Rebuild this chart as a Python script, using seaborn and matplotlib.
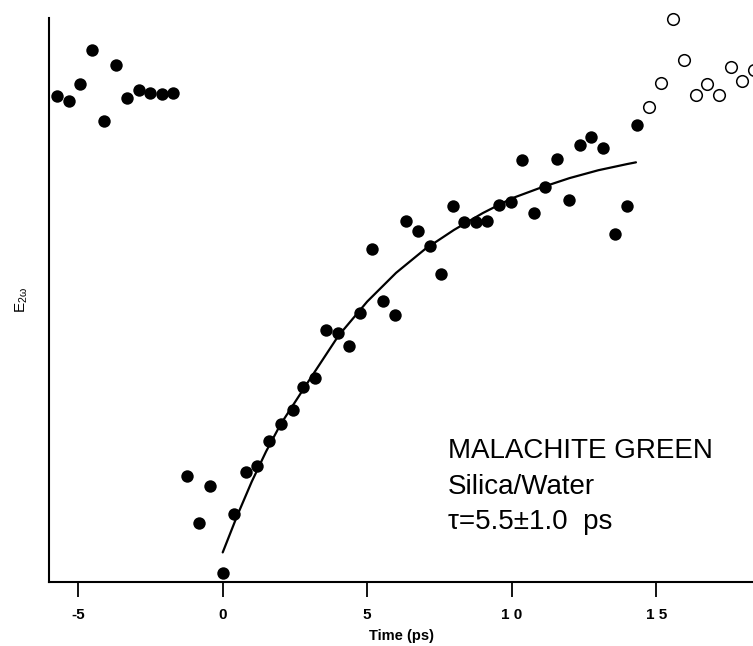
import matplotlib
matplotlib.use("Agg")
import matplotlib.pyplot as plt
import seaborn as sns
import pandas as pd

# Filled points (time in ps, E_2w in relative units)
t_filled = [-5.72, -5.32, -4.93, -4.51, -4.11, -3.70, -3.31, -2.91, -2.51, -2.11, -1.71,
            -1.25, -0.83, -0.44, 0.00, 0.40, 0.80, 1.20, 1.60, 2.01, 2.42, 2.79, 3.19,
            3.57, 3.98, 4.36, 4.76, 5.17, 5.56, 5.96, 6.35, 6.77, 7.16, 7.55, 7.96,
            8.35, 8.75, 9.16, 9.55, 9.97, 10.36, 10.77, 11.16, 11.57, 11.98, 12.36,
            12.74, 13.15, 13.57, 13.98, 14.35]
e_filled = [0.862, 0.853, 0.883, 0.943, 0.817, 0.917, 0.858, 0.872, 0.867, 0.865, 0.867,
            0.188, 0.105, 0.169, 0.016, 0.121, 0.195, 0.206, 0.250, 0.279, 0.305, 0.346, 0.362,
            0.446, 0.441, 0.418, 0.476, 0.590, 0.498, 0.473, 0.640, 0.623, 0.596, 0.546, 0.667,
            0.638, 0.639, 0.640, 0.669, 0.674, 0.749, 0.654, 0.700, 0.750, 0.677, 0.775,
            0.789, 0.769, 0.616, 0.667, 0.811]

# Open points
t_open = [14.76, 15.17, 15.57, 15.97, 16.38, 16.77, 17.17, 17.58, 17.98, 18.40]
e_open = [0.842, 0.885, 0.998, 0.925, 0.863, 0.883, 0.864, 0.913, 0.889, 0.908]

# Fit curve
t_fit = [0.0, 0.5, 1.0, 1.5, 2.0, 3.0, 4.0, 5.0, 6.0, 7.0, 8.0, 9.0, 10.0, 11.0, 12.0, 13.0, 14.0, 14.3]
e_fit = [0.052, 0.117, 0.177, 0.231, 0.279, 0.358, 0.436, 0.497, 0.548, 0.590, 0.624, 0.654,
         0.680, 0.699, 0.716, 0.730, 0.741, 0.744]

filled = pd.DataFrame({"t": t_filled, "e": e_filled})
hollow = pd.DataFrame({"t": t_open, "e": e_open})
fit = pd.DataFrame({"t": t_fit, "e": e_fit})

sns.set_style("ticks")
plt.rcParams["font.family"] = ["Liberation Sans", "DejaVu Sans"]
plt.rcParams["mathtext.fontset"] = "custom"
plt.rcParams["mathtext.rm"] = "Liberation Sans"
plt.rcParams["mathtext.it"] = "Liberation Sans"
for key in ["text.color", "axes.labelcolor", "xtick.color", "ytick.color", "axes.edgecolor"]:
    plt.rcParams[key] = "black"

fig = plt.figure(figsize=(7.53, 6.46), dpi=100)
ax = fig.add_axes([0.0655, 0.0995, 0.9345, 0.8726])

sns.lineplot(data=fit, x="t", y="e", color="black", linewidth=1.6, ax=ax)
sns.scatterplot(data=filled, x="t", y="e", color="black", s=80, edgecolor="black",
                linewidth=0, ax=ax, clip_on=False)
sns.scatterplot(data=hollow, x="t", y="e", facecolor="white", edgecolor="black",
                s=70, linewidth=1.1, ax=ax, clip_on=False)

ax.set_xlim(-6.0, 18.35)
ax.set_ylim(0, 1.0)
ax.set_xticks([-5, 0, 5, 10, 15])
ax.set_xticklabels(["-5", "0", "5", "1 0", "1 5"], fontweight="bold", fontsize=11)
ax.set_yticks([])
ax.tick_params(axis="x", direction="out", length=11, width=1.3, pad=8)
for side in ["top", "right"]:
    ax.spines[side].set_visible(False)
for side in ["left", "bottom"]:
    ax.spines[side].set_linewidth(1.5)

ax.set_xlabel("Time (ps)", fontsize=10.5, fontweight="bold", labelpad=5)
ax.set_ylabel(r"E$_{2\omega}$", fontsize=11, labelpad=14)

ax.text(7.80, 0.219, "MALACHITE GREEN", fontsize=20, va="baseline")
ax.text(7.80, 0.155, "Silica/Water", fontsize=20, va="baseline")
ax.text(7.80, 0.093, "τ=5.5±1.0  ps", fontsize=20, va="baseline")

plt.savefig("out.png", dpi=100)
